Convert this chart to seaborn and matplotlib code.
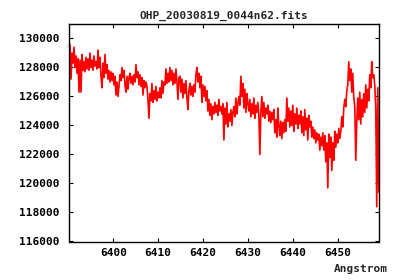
import numpy as np
import pandas as pd
import matplotlib
matplotlib.use("Agg")
import matplotlib.pyplot as plt
import seaborn as sns

title = "OHP_20030819_0044n62.fits"
x_label = "Angstrom"
# spectral grid (as in FITS header): start wavelength and step in Angstrom
wave_start = 6390.36
wave_step = 0.2227
flux = [
    129600, 127200, 129000, 128300, 129400, 128000, 128800, 127600, 128600, 126300,
    128500, 126300, 128900, 127800, 128400, 127700, 128700, 127900, 128600, 127800,
    129000, 128000, 128500, 127800, 128800, 128100, 128400, 127900, 129200, 128000,
    128700, 127400, 126600, 128300, 127300, 128900, 127600, 128200, 127200, 127800,
    127000, 127700, 127100, 127600, 126800, 127400, 126100, 127000, 126000, 126700,
    127500, 127100, 128000, 127300, 127800, 126800, 126300, 127400, 126500, 127300,
    127600, 126900, 127400, 126800, 127500, 127000, 128200, 127300, 127700, 126800,
    127500, 126700, 127300, 126100, 127100, 126600, 127000, 126700, 125800, 124500,
    126200, 125700, 126900, 125600, 126400, 125800, 126700, 125700, 126300, 125900,
    126600, 125900, 127100, 126200, 127000, 126800, 127900, 126900, 127600, 127000,
    128000, 127100, 127800, 126800, 127600, 126900, 127900, 127000, 125800, 127300,
    127400, 126300, 127200, 125900, 126900, 126200, 127100, 125900, 125100, 126400,
    126900, 126100, 126700, 126000, 126800, 126300, 127500, 128000, 127000, 127600,
    126600, 127400, 125600, 126800, 126000, 126700, 125700, 126400, 125000, 125800,
    124700, 125500, 124400, 125300, 124800, 125600, 124900, 125400, 124700, 125800,
    125000, 125300, 124800, 125500, 123000, 125200, 124100, 125600, 123900, 124800,
    124300, 125100, 124000, 124900, 125300, 124600, 125900, 124800, 125500, 126000,
    125400, 127400, 126000, 126900, 125200, 126500, 124900, 126200, 125500, 125000,
    125800, 124600, 125500, 124800, 125900, 124500, 125400, 124900, 125600, 124700,
    122000, 125000, 126000, 124600, 125600, 124500, 125200, 124800, 125400, 124300,
    125000, 124200, 124900, 124400, 125100, 123500, 124400, 123200, 125200, 124000,
    123300, 124300, 123100, 124200, 123500, 124400, 123600, 125900, 124300, 125200,
    123900, 125000, 124000, 125400, 123600, 124800, 124100, 125200, 123800, 124700,
    124100, 125000, 123500, 124600, 123300, 125100, 123700, 124500, 123000, 124700,
    123900, 124300, 123200, 123900, 123100, 123700, 122800, 123500, 123000, 123400,
    122300, 123200, 122600, 123500, 122300, 123300, 121500, 122800, 119700, 123400,
    121800, 123200, 120900, 122800, 121600, 123600, 122500, 123400, 122800, 123800,
    123100, 123600, 124600, 123900, 125200, 125800, 125300, 126400, 126800, 128400,
    127100, 127900, 126300, 127600, 125900, 125300, 121600, 124300, 125900, 124400,
    126300, 124100, 125800, 124600, 126200, 124900, 126800, 125200, 126500, 125700,
    127500, 126600, 128400, 127300, 127500, 126800, 125200, 118400, 126600, 119400,
]
y_ticks = [116000, 118000, 120000, 122000, 124000, 126000, 128000, 130000]
x_ticks = [6400, 6410, 6420, 6430, 6440, 6450]

wavelength = wave_start + wave_step * np.arange(len(flux))
df = pd.DataFrame({"wavelength": wavelength, "flux": flux})

sns.set_style("ticks")
font = {"family": "DejaVu Sans Mono", "weight": "bold", "size": 8.0}

fig = plt.figure(figsize=(4.0, 2.8), dpi=100)
ax = fig.add_axes([0.1733, 0.1375, 0.775, 0.7768])
sns.lineplot(data=df, x="wavelength", y="flux", ax=ax, color="#ff0000",
             linewidth=1.2, estimator=None, sort=False)

ax.set_xlim(6390.2, 6459.3)
ax.set_ylim(116000, 131000)
ax.set_xticks(x_ticks)
ax.set_yticks(y_ticks)
ax.set_xticklabels([str(t) for t in x_ticks], fontdict=font)
ax.set_yticklabels([str(t) for t in y_ticks], fontdict=font)
ax.tick_params(direction="in", length=3, width=0.8, top=True, right=True,
               colors="black")
ax.tick_params(axis="x", pad=5)
ax.tick_params(axis="y", pad=7)
ax.set_xlabel("")
ax.set_ylabel("")
for s in ax.spines.values():
    s.set_visible(True)
    s.set_color("black")
    s.set_linewidth(1.0)
ax.set_title(title, fontdict=font, pad=4)
fig.text(0.97, 0.04, x_label, ha="right", va="center", fontdict=font)

fig.savefig("out.png", dpi=100)
